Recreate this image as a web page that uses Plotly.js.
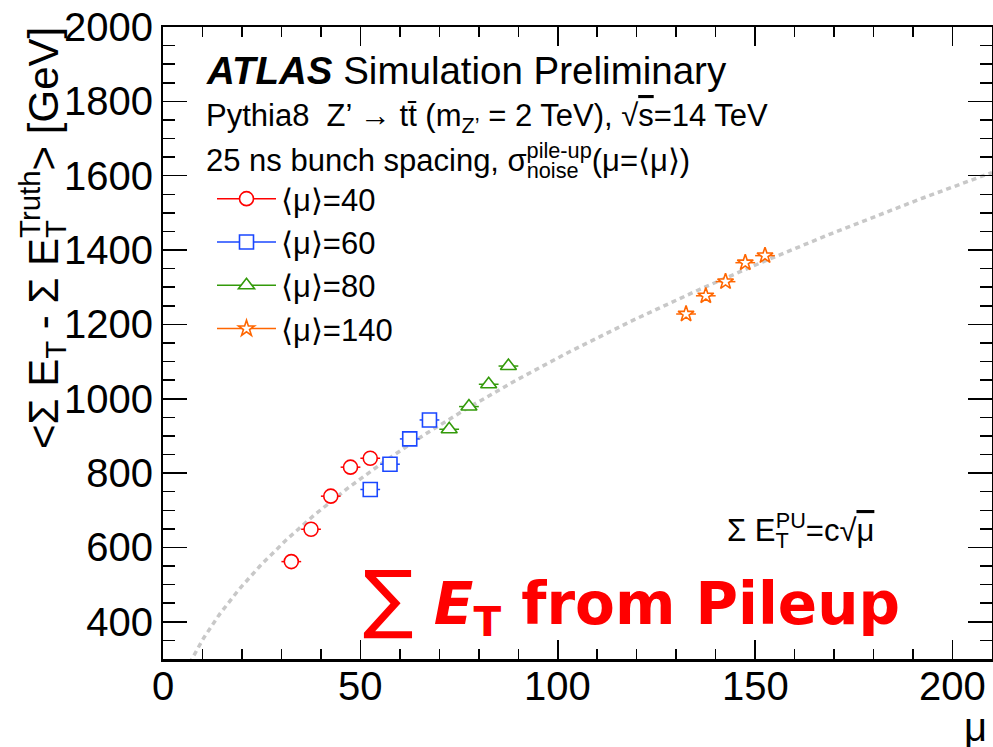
<!DOCTYPE html>
<html>
<head>
<meta charset="utf-8">
<script src="https://cdn.plot.ly/plotly-3.0.1.min.js"></script>
<style>
  html, body { margin: 0; padding: 0; background: #ffffff; }
  #wrap { position: relative; width: 993px; height: 747px; }
  #chart, #frame { position: absolute; left: 0; top: 0; width: 993px; height: 747px; }
  #chart { z-index: 1; }
  #frame { z-index: 2; pointer-events: none; }
  #msg { position: absolute; left: 2px; top: 700px; width: 150px; z-index: 3; font: 8px monospace; color: #888; white-space: pre-wrap; word-break: break-all; }
</style>
</head>
<body>
<div id="wrap">
  <div id="chart"></div>
  <div id="frame"></div>
  <div id="msg"></div>
</div>
<script>
// Mean pile-up sum of transverse energy per mu bin, one sample per <mu>
const mu40_x  = [32.5, 37.5, 42.5, 47.5, 52.5];
const mu40_y  = [562, 649, 738, 816, 840];
const mu60_x  = [52.5, 57.5, 62.5, 67.5];
const mu60_y  = [756, 824, 892, 943];
const mu80_x  = [72.5, 77.5, 82.5, 87.5];
const mu80_y  = [918, 979, 1039, 1088];
const mu140_x = [132.5, 137.5, 142.5, 147.5, 152.5];
const mu140_y = [1228, 1277, 1315, 1366, 1385];
const binHalfWidth = 2.5;          // horizontal error = half of the mu bin

// Fit function  Sum E_T^PU = c * sqrt(mu)
const fitC = 111;
const fitMuMin = 4, fitMuMax = 210, fitStep = 0.5;

// axis ticks
const xTickVals = [0, 50, 100, 150, 200];
const xTickText = ['0', '50', '100', '150', '200'];
const xMinorStep = 10;
const yTickVals = [400, 600, 800, 1000, 1200, 1400, 1600, 1800, 2000];
const yMinorStep = 50;
const xRange = [0, 210], yRange = [300, 2000];

// plot-area frame in pixels
const L = 163, R = 992, T = 27, B = 659;
const W = R - L, H = B - T;
const px = p => (p - L) / W;
const py = p => (B - p) / H;
const margin = { l: L, r: 993 - R, t: T, b: 747 - B, pad: 0 };

const problems = [];
function note(m) { problems.push(String(m)); document.getElementById('msg').textContent = problems.join('\n'); }
window.addEventListener('error', e => note('err: ' + e.message));
window.addEventListener('unhandledrejection', e => note('rej: ' + (e.reason && e.reason.message || e.reason)));

// Transparent frame layer on top: inside major/minor ticks mirrored on all four sides
const frameAxis = {
  ticks: 'inside', tickcolor: '#000000', tickwidth: 1.5,
  showline: true, linecolor: '#000000', mirror: 'ticks',
  showgrid: false, zeroline: false, showticklabels: false
};
const frameLayout = {
  width: 993, height: 747, margin: margin,
  paper_bgcolor: 'rgba(0,0,0,0)', plot_bgcolor: 'rgba(0,0,0,0)',
  showlegend: false,
  xaxis: Object.assign({}, frameAxis, {
    range: xRange, tickvals: xTickVals, ticklen: 19, linewidth: 2.5,
    minor: { dtick: xMinorStep, ticks: 'inside', ticklen: 10, tickwidth: 1.5, tickcolor: '#000000' }
  }),
  yaxis: Object.assign({}, frameAxis, {
    range: yRange, tickvals: yTickVals, ticklen: 24, linewidth: 2,
    minor: { tick0: 0, dtick: yMinorStep, ticks: 'inside', ticklen: 12, tickwidth: 1.5, tickcolor: '#000000' }
  })
};
// the frame trace is a single point far outside the visible range, only so the axes are drawn
const frameData = [{ type: 'scatter', mode: 'markers', x: [-1000], y: [-1000], hoverinfo: 'skip', showlegend: false }];
try {
  Plotly.newPlot('frame', frameData, frameLayout, { displayModeBar: false, staticPlot: true })
    .catch(e => note('frame rej: ' + e.message));
} catch (e) { note('frame: ' + e.message); }

const fitX = [], fitY = [];
for (let m = fitMuMin; m <= fitMuMax + 1e-9; m += fitStep) {
  fitX.push(m);
  fitY.push(fitC * Math.sqrt(m));
}

function series(name, xs, ys, color, symbol, size) {
  const marker = { symbol: symbol, size: size, color: '#ffffff', line: { color: color, width: 1.6 } };
  return [
    {
      type: 'scatter', mode: 'markers', x: xs, y: ys, showlegend: false,
      marker: marker, hoverinfo: 'x+y',
      error_x: { type: 'constant', value: binHalfWidth, color: color, thickness: 1.5, width: 0 }
    },
    {
      // legend entry: line through the marker, as for an error-bar graph
      type: 'scatter', mode: 'lines+markers', x: [null], y: [null], name: name,
      marker: marker, line: { color: color, width: 1.5 }
    }
  ];
}

const s40  = series('⟨μ⟩=40',  mu40_x,  mu40_y,  '#ff0000', 'circle', 14);
const s60  = series('⟨μ⟩=60',  mu60_x,  mu60_y,  '#1a47ff', 'square', 14);
const s80  = series('⟨μ⟩=80',  mu80_x,  mu80_y,  '#339a0a', 'triangle-up', 14);
const s140 = series('⟨μ⟩=140', mu140_x, mu140_y, '#ff6600', 'star', 12);

const data = [
  {
    type: 'scatter', mode: 'lines', x: fitX, y: fitY, showlegend: false, hoverinfo: 'skip',
    line: { color: '#c8c8c8', width: 3.5, dash: '5px,4px' }
  },
  s40[0], s60[0], s80[0], s140[0],
  s40[1], s60[1], s80[1], s140[1]
];

// x tick labels, placed a little closer to the axis than the default
const xLabelAnnotations = xTickVals.map((v, i) => ({
  xref: 'x', yref: 'paper', x: v, y: py(686), xanchor: 'center', yanchor: 'middle',
  showarrow: false, font: { size: 40 }, text: xTickText[i]
}));

const layout = {
  width: 993, height: 747, margin: margin,
  paper_bgcolor: '#ffffff', plot_bgcolor: '#ffffff',
  font: { family: 'Liberation Sans, Arial, sans-serif', color: '#000000' },
  xaxis: {
    range: xRange, tickvals: xTickVals, ticks: '', showticklabels: false,
    showline: true, linecolor: '#000000', linewidth: 2.5, mirror: true,
    showgrid: false, zeroline: false
  },
  yaxis: {
    range: yRange, tickvals: yTickVals, ticks: '',
    showline: true, linecolor: '#000000', linewidth: 2, mirror: true,
    showgrid: false, zeroline: false, tickfont: { size: 40, color: '#000000' }
  },
  showlegend: true,
  legend: {
    x: px(212), y: py(172), xanchor: 'left', yanchor: 'top',
    bgcolor: 'rgba(0,0,0,0)', borderwidth: 0, itemwidth: 59,
    font: { size: 31, color: '#000000' }, traceorder: 'normal'
  },
  annotations: xLabelAnnotations.concat([
    {
      xref: 'paper', yref: 'paper', x: px(204), y: py(47), xanchor: 'left', yanchor: 'top',
      showarrow: false, font: { size: 38.5 },
      text: '<b><i>ATLAS</i></b> Simulation Preliminary'
    },
    {
      xref: 'paper', yref: 'paper', x: px(204), y: py(95.5), xanchor: 'left', yanchor: 'top',
      showarrow: false, font: { size: 31 },
      text: 'Pythia8  Z’ → tt̄ (m<sub>Z’</sub> = 2 TeV), √<span style="text-decoration:overline">s</span>=14 TeV'
    },
    {
      xref: 'paper', yref: 'paper', x: px(204), y: py(135.5), xanchor: 'left', yanchor: 'top',
      showarrow: false, font: { size: 31 },
      text: '25 ns bunch spacing, σ<sub>nois<span style="letter-spacing:-52px">e</span></sub><sup>pile-up</sup>(μ=⟨μ⟩)'
    },
    {
      xref: 'paper', yref: 'paper', x: px(725), y: py(506), xanchor: 'left', yanchor: 'top',
      showarrow: false, font: { size: 31 },
      text: 'Σ E<sub><span style="letter-spacing:-13px">T</span></sub><sup>PU</sup>=c√<span style="text-decoration:overline">μ</span>'
    },
    {
      xref: 'paper', yref: 'paper', x: px(361), y: py(648), xanchor: 'left', yanchor: 'bottom',
      showarrow: false,
      font: { family: 'DejaVu Sans, sans-serif', size: 58, weight: 'bold', color: '#ff0000' },
      text: '<span style="font-size:75px;font-weight:normal">∑</span> <i>E</i><sub>T</sub> from Pileup'
    },
    {
      xref: 'paper', yref: 'paper', x: px(975), y: py(727), xanchor: 'center', yanchor: 'middle',
      showarrow: false, font: { size: 40 }, text: 'μ'
    },
    {
      xref: 'paper', yref: 'paper', x: px(42), y: py(25), xanchor: 'center', yanchor: 'top',
      showarrow: false, textangle: -90, font: { size: 42 },
      text: '&lt;Σ E<sub>T</sub> - Σ E<sub><span style="letter-spacing:-18px">T</span></sub><sup>Truth</sup>&gt; [GeV]'
    }
  ])
};

try {
  Plotly.newPlot('chart', data, layout, { displayModeBar: false, staticPlot: true })
    .then(() => {
      const n = document.querySelectorAll('#frame path.xtick').length + document.querySelectorAll('#frame path.ytick').length;
      if (n === 0) note('no frame ticks');
    })
    .catch(e => note('chart rej: ' + e.message));
} catch (e) { note('chart: ' + e.message); }
</script>
</body>
</html>
